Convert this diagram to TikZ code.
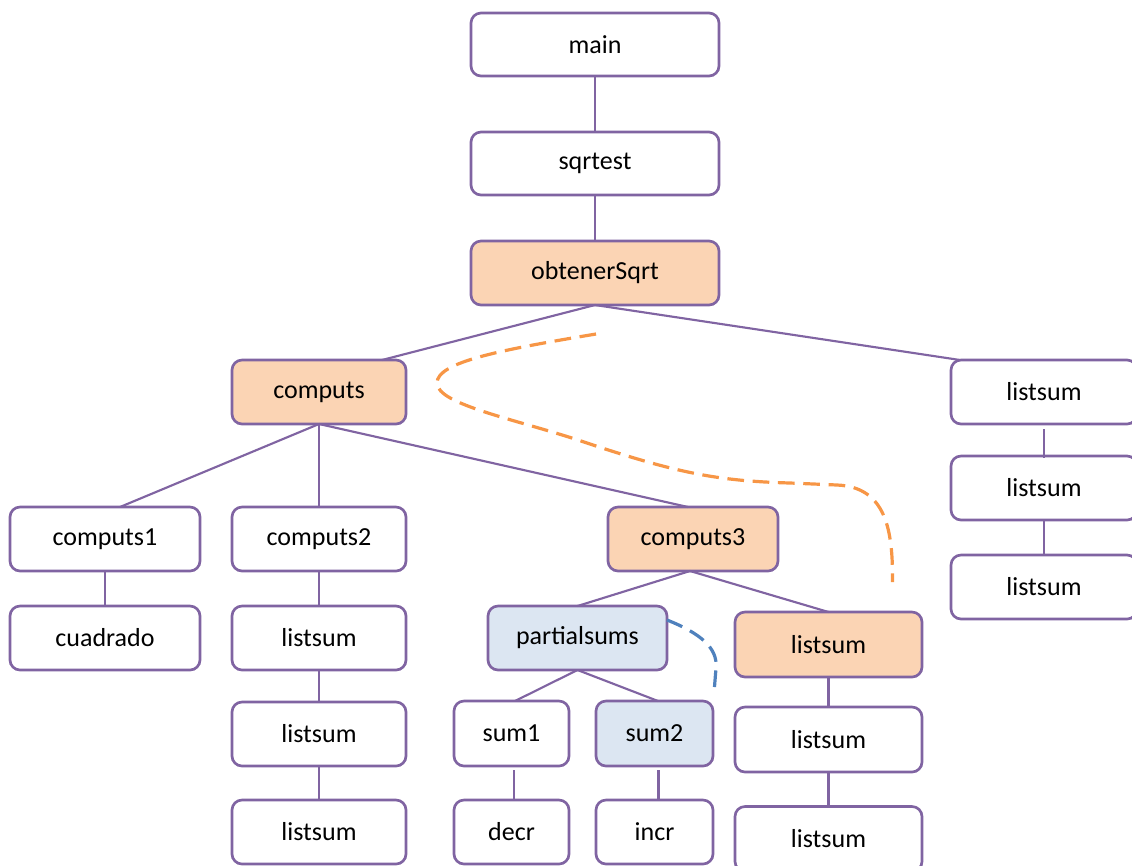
\documentclass[tikz,border=0pt]{standalone}
\usepackage{fontspec}
\setmainfont{Carlito}
\usetikzlibrary{calc}
\definecolor{boxline}{HTML}{8064A2}
\definecolor{peach}{HTML}{FBD4B4}
\definecolor{lblue}{HTML}{DCE6F2}
\definecolor{dorange}{HTML}{F79646}
\definecolor{dblue}{HTML}{4F81BD}
\begin{document}
\begin{tikzpicture}[x=0.75pt,y=-0.75pt,
  box/.style={draw=boxline, line width=2pt, rounded corners=7.5pt, fill=white,
    inner sep=0pt, outer sep=0pt, font=\fontsize{19.5}{23}\selectfont},
  sz/.style 2 args={minimum width=#1*0.75pt, minimum height=#2*0.75pt},
  hot/.style={fill=peach},
  cool/.style={fill=lblue},
  link/.style={draw=boxline, line width=1.6pt},
  odash/.style={draw=dorange, line width=2.4pt, dash pattern=on 12.5pt off 6.5pt},
  bdash/.style={draw=dblue, line width=2.4pt, dash pattern=on 12.5pt off 6.5pt}]
\useasboundingbox (0,0) rectangle (1132,865);

% nodes
\node[box, sz={248}{63}] (main) at (595,44.5) {main};
\node[box, sz={248}{63}] (sqrtest) at (595,163.5) {sqrtest};
\node[box, hot, sz={248}{64}] (obt) at (595,273) {obtenerSqrt};
\node[box, hot, sz={174}{64}] (computs) at (319,392) {computs};
\node[box, sz={186}{64}] (lsR1) at (1044,392) {listsum};
\node[box, sz={186}{64}] (lsR2) at (1044,488) {listsum};
\node[box, sz={186}{64}] (lsR3) at (1044,587) {listsum};
\node[box, sz={190}{64}] (c1) at (105,539) {computs1};
\node[box, sz={174}{64}] (c2) at (319,539) {computs2};
\node[box, hot, sz={170}{64}] (c3) at (693,539) {computs3};
\node[box, sz={190}{64}] (cuad) at (105,638) {cuadrado};
\node[box, sz={174}{64}] (ls21) at (319,638) {listsum};
\node[box, sz={174}{64}] (ls22) at (319,734) {listsum};
\node[box, sz={174}{64}] (ls23) at (319,832) {listsum};
\node[box, cool, sz={179}{64}] (ps) at (577.5,638) {partialsums};
\node[box, hot, sz={187}{65}] (lsP1) at (828.5,644.5) {listsum};
\node[box, sz={187}{65}] (lsP2) at (828.5,739.5) {listsum};
\node[box, sz={187}{65}] (lsP3) at (828.5,839) {listsum};
\node[box, sz={115}{65}] (sum1) at (511.5,733.5) {sum1};
\node[box, cool, sz={117}{65}] (sum2) at (654.5,733.5) {sum2};
\node[box, sz={115}{64}] (decr) at (511.5,832) {decr};
\node[box, sz={117}{64}] (incr) at (654.5,832) {incr};

% connectors
\draw[link] (main.south) -- (sqrtest.north);
\draw[link] (sqrtest.south) -- (obt.north);
\draw[link] (obt.south) -- ($(computs.north)+(63,0)$);
\draw[link] (obt.south) -- ($(lsR1.north)+(-84,0)$);
\draw[link] ($(lsR1.south)+(0,5)$) -- ($(lsR2.north)+(0,2)$);
\draw[link] (lsR2.south) -- (lsR3.north);
\draw[link] (computs.south) -- ($(c1.north)+(15,0)$);
\draw[link] (computs.south) -- (c2.north);
\draw[link] (computs.south) -- ($(c3.north)+(-5,0)$);
\draw[link] (c1.south) -- (cuad.north);
\draw[link] (c2.south) -- (ls21.north);
\draw[link] (ls21.south) -- (ls22.north);
\draw[link] (ls22.south) -- (ls23.north);
\draw[link] ($(c3.south)+(-3,0)$) -- (ps.north);
\draw[link] ($(c3.south)+(-3,0)$) -- (lsP1.north);
\draw[link] (ps.south) -- ($(sum1.north)+(3.5,0)$);
\draw[link] (ps.south) -- ($(sum2.north)+(3.5,0)$);
\draw[link] ($(sum1.south)+(2.5,4)$) -- ($(decr.north)+(2.5,0)$);
\draw[link] ($(sum2.south)+(4,4)$) -- ($(incr.north)+(4,0)$);
\draw[link] (lsP1.south) -- (lsP2.north);
\draw[link] (lsP2.south) -- (lsP3.north);

% dashed curves
\coordinate (oA) at ($(obt.south)+(1,29)$);
\coordinate (oB) at ($(lsP1.north)+(64,-30)$);
\draw[odash] (oA) .. controls (500,350) and (437,362) .. (437,383)
  .. controls (437,405) and (520,420) .. (587,443)
  .. controls (680,474) and (720,481) .. (790,483)
  -- (837,485) .. controls (886,487) and (893,530) .. (oB);
\coordinate (bA) at ($(ps.east)+(0,-18)$);
\coordinate (bB) at ($(sum2.north east)+(1,-8)$);
\draw[bdash] (bA) .. controls (700,633) and (718,648) .. (716,668) -- (bB);
\end{tikzpicture}
\end{document}
